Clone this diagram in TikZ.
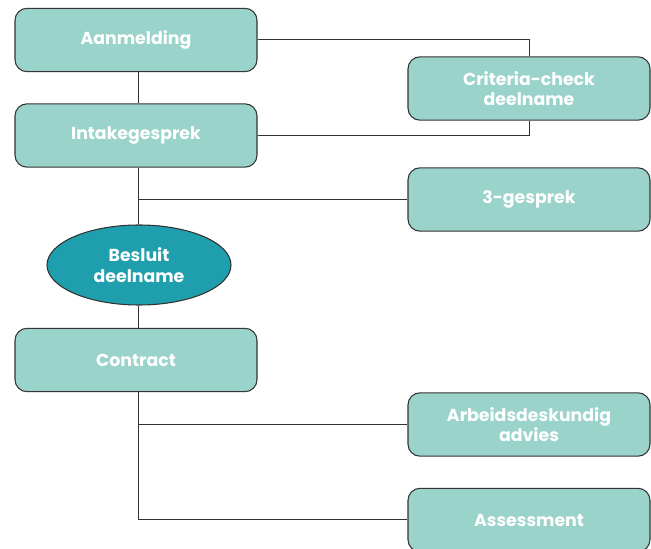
\documentclass[tikz,border=0pt]{standalone}
\usepackage{fontspec}
\setmainfont{Poppins}
\usetikzlibrary{shapes.geometric}
\definecolor{boxfill}{HTML}{99D3CA}
\definecolor{ellfill}{HTML}{1F9FAD}
\definecolor{edge}{HTML}{333333}
\tikzset{
  stepbox/.style={draw=edge, line width=0.8pt, fill=boxfill, rounded corners=9pt,
    minimum width=181.5pt, minimum height=47.5pt, text=white, align=center,
    font=\fontsize{13}{15.5}\selectfont\bfseries, inner sep=0pt},
  decide/.style={ellipse, draw=edge, line width=0.8pt, fill=ellfill,
    minimum width=138pt, minimum height=60pt, text=white, align=center,
    font=\fontsize{13}{15.5}\selectfont\bfseries, inner sep=0pt},
  conn/.style={draw=edge, line width=0.75pt}
}
\begin{document}
\begin{tikzpicture}[x=0.75pt,y=-0.75pt]
\useasboundingbox (0,0) rectangle (651,549);
\node[stepbox] (aan) at (136,40) {Aanmelding};
\node[stepbox] (crit) at (529,88.5) {Criteria-check\\deelname};
\node[stepbox] (intake) at (136,135.5) {Intakegesprek};
\node[stepbox] (drie) at (529,199.5) {3-gesprek};
\node[decide] (besluit) at (139,265) {Besluit\\deelname};
\node[stepbox] (contract) at (136,360) {Contract};
\node[stepbox] (arb) at (529,424.5) {Arbeidsdeskundig\\advies};
\node[stepbox] (ass) at (529,520) {Assessment};
\coordinate (spine) at (138.5,0);
\draw[conn] (aan.east) -| (crit.north);
\draw[conn] (intake.east) -| (crit.south);
\draw[conn] (spine |- aan.south) -- (spine |- intake.north);
\draw[conn] (spine |- intake.south) -- (spine |- besluit.north);
\draw[conn] (spine |- drie.west) -- (drie.west);
\draw[conn] (spine |- besluit.south) -- (spine |- contract.north);
\draw[conn] (spine |- contract.south) |- (ass.west);
\draw[conn] (spine |- arb.west) -- (arb.west);
\end{tikzpicture}
\end{document}
